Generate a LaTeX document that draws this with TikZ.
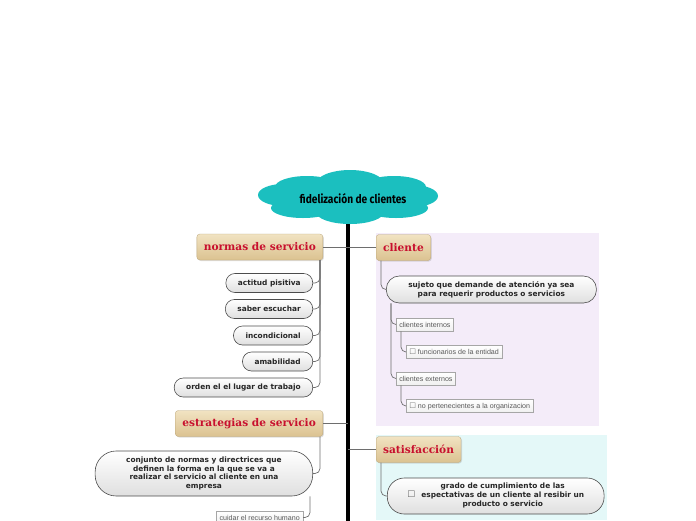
\documentclass[tikz,border=0pt]{standalone}
\usepackage{fontspec}
\usetikzlibrary{shadows}

\newfontfamily\cloudfont[FakeStretch=0.85]{Fira Sans}
\newfontfamily\headfont{DejaVu Serif}
\newfontfamily\pillfont{DejaVu Sans}
\newfontfamily\smallfont{Liberation Sans}

\definecolor{nube}{HTML}{1BBFBF}
\definecolor{rojotitulo}{HTML}{C8102E}
\definecolor{tanclaro}{HTML}{F1E3C2}
\definecolor{tanoscuro}{HTML}{DBC290}
\definecolor{lila}{HTML}{F4ECF9}
\definecolor{celeste}{HTML}{E4F8F8}
\definecolor{linea}{HTML}{6E6E6E}

\begin{document}
\begin{tikzpicture}[x=1pt, y=-1pt,
    titulo/.style={rectangle, rounded corners=3pt, top color=tanclaro, bottom color=tanoscuro,
      draw=tanoscuro!85!black, line width=0.3pt, minimum height=26pt, inner xsep=7pt,
      drop shadow={opacity=0.25, shadow xshift=1pt, shadow yshift=-1pt},
      font=\headfont\bfseries\fontsize{10.6}{12}\selectfont, text=rojotitulo},
    pildora/.style={rectangle, rounded corners=9pt, top color=white, bottom color=gray!25,
      draw=black!70, line width=0.6pt, minimum height=19pt, inner xsep=12pt, align=center,
      font=\pillfont\bfseries\fontsize{7.4}{8.8}\selectfont, text=black!85},
    cajita/.style={rectangle, top color=white, bottom color=gray!12, draw=gray!70,
      line width=0.5pt, minimum height=13pt, inner xsep=3pt, inner ysep=1pt,
      drop shadow={opacity=0.15, shadow xshift=0.8pt, shadow yshift=-0.8pt},
      font=\smallfont\fontsize{7.1}{8}\selectfont, text=black!65},
    conector/.style={draw=linea, line width=0.7pt},
    codo/.style={draw=linea, line width=0.7pt, rounded corners=5pt}]

  \useasboundingbox (0,0) rectangle (696,520);

  % fondos de las ramas derechas
  \fill[lila] (376,233) rectangle (599,426);
  \fill[celeste] (376,435) rectangle (607,520);

  % tronco central
  \coordinate (inicio) at (348,212);
  \coordinate (fin) at (348,522);
  \draw[line width=4pt] (inicio) -- (fin);

  % idea central (nube)
  \fill[nube] (348,197) ellipse (82 and 17);
  \fill[nube] (350,184) ellipse (34 and 14);
  \fill[nube] (307,187) ellipse (32 and 11);
  \fill[nube] (394,187) ellipse (32 and 11);
  \fill[nube] (283,195) ellipse (25 and 11);
  \fill[nube] (413,196) ellipse (25 and 11);
  \fill[nube] (303,208) ellipse (32 and 10);
  \fill[nube] (350,212) ellipse (34 and 12);
  \fill[nube] (396,208) ellipse (32 and 10);
  \node[font=\cloudfont\bfseries\fontsize{12}{14}\selectfont] (raiz) at (353,199) {fidelización de clientes};

  % normas de servicio
  \node[titulo, anchor=east] (normas) at (323,247) {normas de servicio};
  \draw[conector] (normas.east) -- (normas.east -| inicio);
  \node[pildora, anchor=east] (actitud) at (313,283) {actitud pisitiva};
  \node[pildora, anchor=east] (escuchar) at (313,309) {saber escuchar};
  \node[pildora, anchor=east] (incond) at (313,335.5) {incondicional};
  \node[pildora, anchor=east] (amab) at (313,361.5) {amabilidad};
  \node[pildora, anchor=east] (orden) at (313,387.5) {orden el el lugar de trabajo};
  \foreach \hijo in {actitud,escuchar,incond,amab,orden}
    \draw[codo] ([xshift=-3pt]normas.south east) |- (\hijo.east);

  % estrategias de servicio
  \node[titulo, anchor=east] (estrat) at (323,423.5) {estrategias de servicio};
  \draw[conector] (estrat.east) -- (estrat.east -| inicio);
  \node[pildora, anchor=east, rounded corners=21pt, inner xsep=31pt, minimum height=45pt] (conjunto) at (313,473.5)
    {conjunto de normas y directrices que\\definen la forma en la que se va a\\realizar el servicio al cliente en una\\empresa};
  \draw[codo] ([xshift=-3pt]estrat.south east) |- (conjunto.east);
  \node[cajita, anchor=east] (cuidar) at (303,517.5) {cuidar el recurso humano};
  \draw[codo] ([xshift=-3pt]conjunto.south east) |- (cuidar.east);

  % cliente
  \node[titulo, anchor=west] (cliente) at (376,247.5) {cliente};
  \draw[conector] (cliente.west) -- (cliente.west -| inicio);
  \node[pildora, anchor=west, rounded corners=13pt, minimum height=27pt, inner xsep=22pt] (sujeto) at (386,289.5)
    {sujeto que demande de atención ya sea\\para requerir productos o servicios};
  \draw[codo] ([xshift=5pt]cliente.south west) |- (sujeto.west);
  \node[cajita, anchor=west] (internos) at (396,324.5) {clientes internos};
  \node[cajita, anchor=west] (externos) at (396,378.5) {clientes externos};
  \node[cajita, anchor=west] (funcion) at (406,352) {{\pillfont\fontsize{7.5}{8}\selectfont\color{black!55}☐} funcionarios de la entidad};
  \node[cajita, anchor=west] (noperten) at (406,406) {{\pillfont\fontsize{7.5}{8}\selectfont\color{black!55}☐} no pertenecientes a la organizacion};
  \draw[codo] ([xshift=5pt]sujeto.south west) |- (internos.west);
  \draw[codo] ([xshift=5pt]sujeto.south west) |- (externos.west);
  \draw[codo] ([xshift=5pt]internos.south west) |- (funcion.west);
  \draw[codo] ([xshift=5pt]externos.south west) |- (noperten.west);

  % satisfaccion
  \node[titulo, anchor=west] (satis) at (376,449.5) {satisfacción};
  \draw[conector] (satis.west) -- (satis.west -| inicio);
  \node[pildora, anchor=west, rounded corners=17pt, minimum height=36pt, inner xsep=20pt] (grado) at (387,496)
    {{\fontsize{9}{9}\selectfont\color{black!60}☐}\hspace{6pt}\begin{tabular}{@{}c@{}}grado de cumplimiento de las\\espectativas de un cliente al resibir un\\producto o servicio\end{tabular}};
  \draw[codo] ([xshift=5pt]satis.south west) |- (grado.west);

\end{tikzpicture}
\end{document}
